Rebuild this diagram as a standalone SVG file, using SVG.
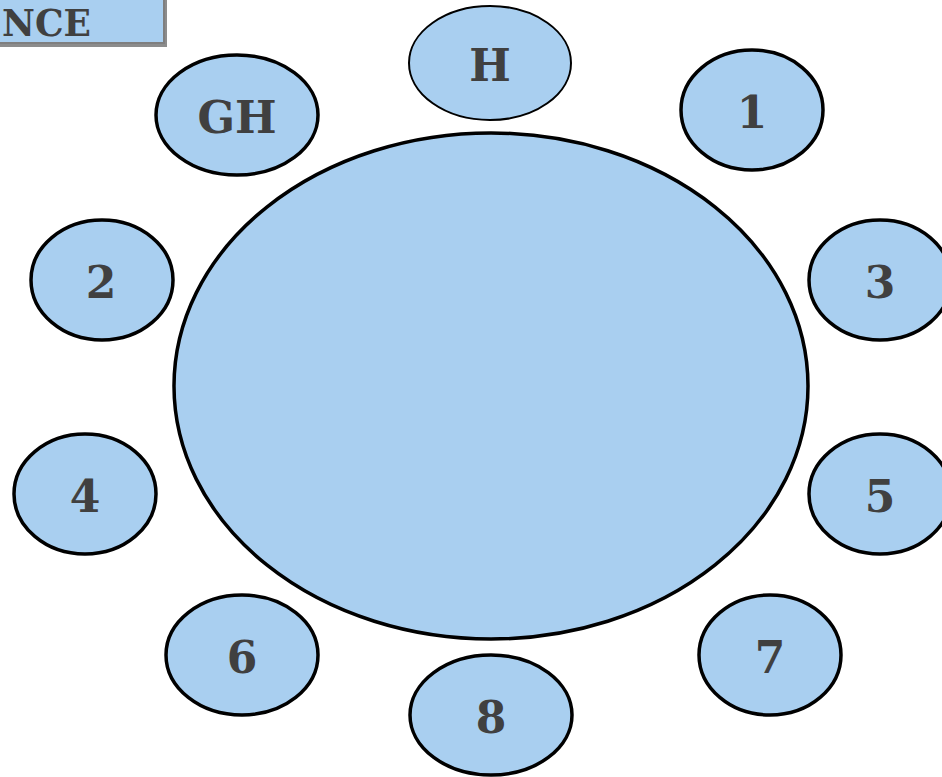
<svg xmlns="http://www.w3.org/2000/svg" width="942" height="777" viewBox="0 0 942 777">
<style>
.seat{fill:#a9cff0;stroke:#000;stroke-width:3.5}
.lbl{font-family:"DejaVu Serif",serif;font-weight:bold;font-size:44px;fill:#404040;text-anchor:middle}
</style>
<rect width="942" height="777" fill="#fff"/>
<g id="header">
<rect x="-10" y="-10" width="177" height="57" fill="#8c8c8c"/>
<rect x="-10" y="-10" width="174" height="53" fill="#a9cff0" stroke="#7f7f7f" stroke-width="2"/>
<text x="2" y="36" class="lbl" style="text-anchor:start;font-size:38px" textLength="89" lengthAdjust="spacingAndGlyphs">NCE</text>
</g>
<g id="table"><ellipse cx="491" cy="386" rx="317" ry="253" class="seat"/></g>
<g id="seat-H"><ellipse cx="490" cy="63" rx="81" ry="57" class="seat" style="stroke-width:2"/><text x="490" y="81" class="lbl">H</text></g>
<g id="seat-GH"><ellipse cx="237" cy="115" rx="81" ry="60" class="seat"/><text x="237" y="133" class="lbl">GH</text></g>
<g id="seat-1"><ellipse cx="752" cy="110" rx="71" ry="60" class="seat"/><text x="752" y="128" class="lbl">1</text></g>
<g id="seat-2"><ellipse cx="102" cy="280" rx="71" ry="60" class="seat"/><text x="101" y="298" class="lbl">2</text></g>
<g id="seat-3"><ellipse cx="880" cy="280" rx="71" ry="60" class="seat"/><text x="880" y="298" class="lbl">3</text></g>
<g id="seat-4"><ellipse cx="85" cy="494" rx="71" ry="60" class="seat"/><text x="85" y="512" class="lbl">4</text></g>
<g id="seat-5"><ellipse cx="880" cy="494" rx="71" ry="60" class="seat"/><text x="880" y="512" class="lbl">5</text></g>
<g id="seat-6"><ellipse cx="242" cy="655" rx="76" ry="60" class="seat"/><text x="242" y="673" class="lbl">6</text></g>
<g id="seat-7"><ellipse cx="770" cy="655" rx="71" ry="60" class="seat"/><text x="770" y="673" class="lbl">7</text></g>
<g id="seat-8"><ellipse cx="491" cy="715" rx="81" ry="60" class="seat"/><text x="491" y="733" class="lbl">8</text></g>
<g id="connectors"/>
</svg>
